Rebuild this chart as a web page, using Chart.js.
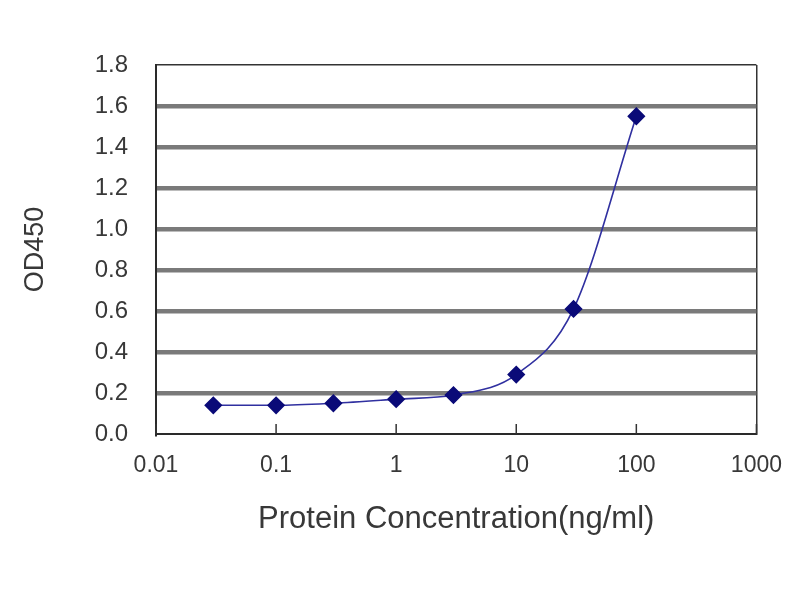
<!DOCTYPE html>
<html>
<head>
<meta charset="utf-8">
<script src="https://cdn.jsdelivr.net/npm/chart.js@4"></script>
<style>
  html, body { margin: 0; padding: 0; background: #fff; }
  #wrap { width: 800px; height: 600px; }
</style>
</head>
<body>
<div id="wrap"><canvas id="c" width="800" height="600"></canvas></div>
<script>
// values
const concentrations = [0.03, 0.1, 0.3, 1, 3, 10, 30, 100];
const od450 = [0.14, 0.14, 0.15, 0.17, 0.19, 0.29, 0.61, 1.55];
const xTicks = [0.01, 0.1, 1, 10, 100, 1000];
const yTicks = [0, 0.2, 0.4, 0.6, 0.8, 1.0, 1.2, 1.4, 1.6, 1.8];

const FONT = "'Liberation Sans', Arial, sans-serif";
const TXT = '#383838';

// little inside tick marks on the x axis
const innerTicks = {
  id: 'innerTicks',
  afterDraw(chart) {
    const sx = chart.scales.x, ctx = chart.ctx;
    const bottom = chart.chartArea.bottom;
    ctx.save();
    ctx.strokeStyle = '#333';
    ctx.lineWidth = 1.5;
    xTicks.forEach(v => {
      const px = sx.getPixelForValue(v);
      ctx.beginPath();
      ctx.moveTo(px, bottom);
      ctx.lineTo(px, bottom - 10);
      ctx.stroke();
    });
    ctx.restore();
  }
};

new Chart(document.getElementById('c').getContext('2d'), {
  type: 'line',
  data: {
    datasets: [{
      data: concentrations.map((x, i) => ({ x, y: od450[i] })),
      borderColor: '#3030a0',
      borderWidth: 1.6,
      cubicInterpolationMode: 'monotone',
      pointStyle: 'rectRot',
      pointRadius: 8,
      pointHoverRadius: 8,
      pointBackgroundColor: '#0a0a78',
      pointBorderColor: '#0a0a78',
      fill: false,
      clip: false,
    }]
  },
  options: {
    responsive: false,
    animation: false,
    devicePixelRatio: 1,
    layout: { padding: { left: 8, right: 41, top: 65, bottom: 52 } },
    plugins: { legend: { display: false }, tooltip: { enabled: false } },
    scales: {
      x: {
        type: 'logarithmic',
        min: 0.01, max: 1000,
        afterBuildTicks: (s) => { s.ticks = xTicks.map(v => ({ value: v })); },
        afterFit: (s) => { s.height = 114; },
        ticks: {
          autoSkip: false, maxRotation: 0, padding: 18, color: TXT,
          font: { family: FONT, size: 23 },
          callback: (v) => String(v),
        },
        grid: {
          drawTicks: false,
          color: (c) => c.tick && c.tick.value === 1000 ? '#333' : 'rgba(0,0,0,0)',
          lineWidth: 1.5,
        },
        border: { display: true, color: '#2a2a2a', width: 2 },
        title: {
          display: true, text: 'Protein Concentration(ng/ml)', color: TXT,
          font: { family: FONT, size: 31 }, padding: { top: 0, bottom: 10 },
        },
      },
      y: {
        min: 0, max: 1.8,
        afterBuildTicks: (s) => { s.ticks = yTicks.map(v => ({ value: v })); },
        afterFit: (s) => { s.width = 148; },
        ticks: {
          padding: 28, color: TXT,
          font: { family: FONT, size: 24 },
          callback: (v) => Number(v).toFixed(1),
        },
        grid: {
          drawTicks: false,
          color: (c) => {
            const v = c.tick ? c.tick.value : 0;
            if (v === 0) return 'rgba(0,0,0,0)';
            if (v >= 1.79) return '#333';
            return '#7a7a7a';
          },
          lineWidth: (c) => (c.tick && c.tick.value >= 1.79 ? 1.5 : 4.5),
        },
        border: { display: true, color: '#2a2a2a', width: 2 },
        title: {
          display: true, text: 'OD450', color: TXT,
          font: { family: FONT, size: 27 }, padding: { top: 11, bottom: 0 },
        },
      }
    }
  },
  plugins: [innerTicks]
});
</script>
</body>
</html>
